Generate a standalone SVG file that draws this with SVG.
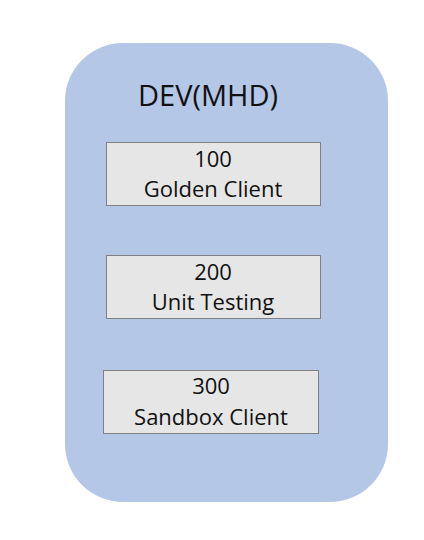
<svg xmlns="http://www.w3.org/2000/svg" width="424" height="540" viewBox="0 0 424 540">
<style>
.outer{fill:#b4c7e7;stroke:none}
.box{fill:#e6e6e6;stroke:#7f7f7f;stroke-width:1}
.t{font-family:"Open Sans","Liberation Sans",sans-serif;fill:#111;text-anchor:middle}
.lbl{font-size:22px}
.title{font-size:29px}
</style>
<rect width="424" height="540" fill="#fff"/>
<g id="dev">
<rect class="outer" x="65" y="43" width="323" height="459" rx="58" ry="58"/>
<text class="t title" x="208" y="106">DEV(MHD)</text>
</g>
<g id="client100">
<rect class="box" x="106.5" y="142.5" width="214" height="63"/>
<text class="t lbl" x="213" y="167">100</text>
<text class="t lbl" x="213" y="197">Golden Client</text>
</g>
<g id="client200">
<rect class="box" x="106.5" y="255.5" width="214" height="63"/>
<text class="t lbl" x="213" y="280">200</text>
<text class="t lbl" x="213" y="310">Unit Testing</text>
</g>
<g id="client300">
<rect class="box" x="103.5" y="370.5" width="215" height="63"/>
<text class="t lbl" x="211" y="394">300</text>
<text class="t lbl" x="211" y="425">Sandbox Client</text>
</g>
<g id="connectors"></g>
</svg>
